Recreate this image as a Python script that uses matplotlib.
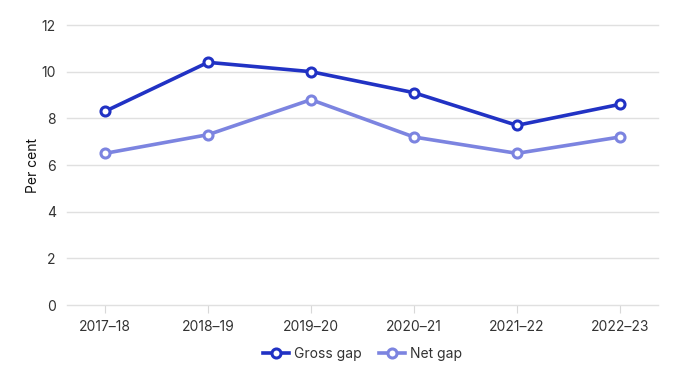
import matplotlib
matplotlib.use('Agg')
import matplotlib.pyplot as plt

years = ['2017–18', '2018–19', '2019–20', '2020–21', '2021–22', '2022–23']
gross_gap = [8.3, 10.4, 10.0, 9.1, 7.7, 8.6]
net_gap = [6.5, 7.3, 8.8, 7.2, 6.5, 7.2]

plt.rcParams['font.family'] = ['Inter', 'DejaVu Sans']
text_col = '#333333'

fig = plt.figure(figsize=(6.8, 3.76), dpi=100)
ax = fig.add_axes([0.0985, 0.1888, 0.8691, 0.7447])

x = range(len(years))
ax.plot(x, gross_gap, color='#2132c4', linewidth=2.6, marker='o', markersize=6.5,
        markerfacecolor='white', markeredgewidth=2.2, label='Gross gap', zorder=3)
ax.plot(x, net_gap, color='#7c84e0', linewidth=2.6, marker='o', markersize=6.5,
        markerfacecolor='white', markeredgewidth=2.2, label='Net gap', zorder=3)

ax.set_xlim(-0.37, 5.37)
ax.set_ylim(0, 12)
ax.set_yticks(range(0, 13, 2))
ax.set_xticks(list(x))
ax.set_xticklabels(years)
ax.grid(axis='y', color='#e0e0e0', linewidth=1)
for gl in ax.get_ygridlines():
    gl.set_clip_on(False)
ax.set_axisbelow(True)
for s in ax.spines.values():
    s.set_visible(False)
ax.tick_params(axis='y', length=0, pad=8, labelsize=10, labelcolor=text_col)
ax.tick_params(axis='x', length=6, color='#d8d8d8', pad=5, labelsize=10, labelcolor=text_col)
ax.set_ylabel('Per cent', fontsize=10, color='#111111', labelpad=1)

ax.legend(loc='upper center', bbox_to_anchor=(0.5, -0.105), ncol=2, frameon=False,
          fontsize=10, handlelength=1.9, columnspacing=1.2, handletextpad=0.35,
          labelcolor=text_col)

fig.savefig('out.png', dpi=100)
